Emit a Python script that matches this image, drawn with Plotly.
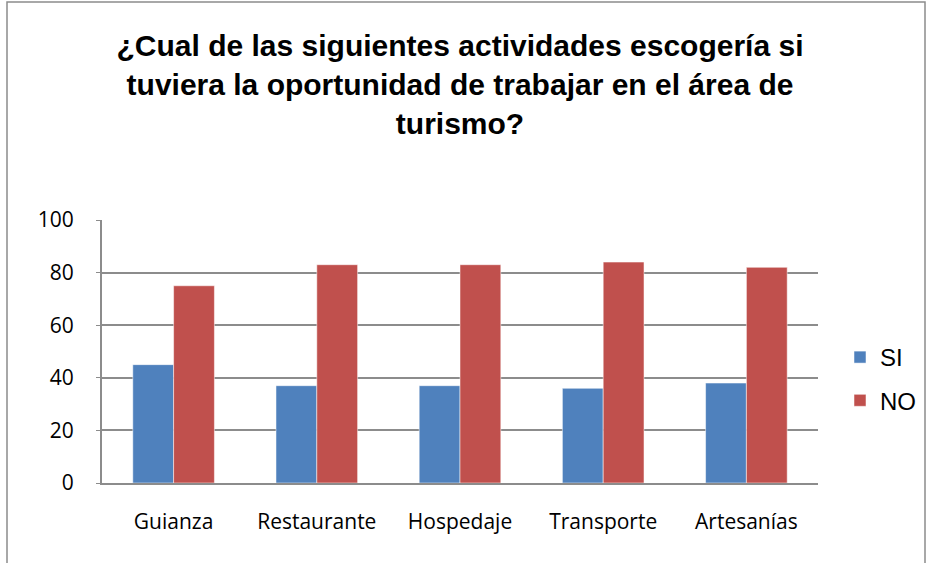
import plotly.graph_objects as go

categories = ["Guianza", "Restaurante", "Hospedaje", "Transporte", "Artesanías"]
si_values = [45, 37, 37, 36, 38]
no_values = [75, 83, 83, 84, 82]
y_ticks = [0, 20, 40, 60, 80, 100]

W, H = 934, 563
L, R, T, B = 102, 116, 220, 80
pw, ph = W - L - R, H - T - B

fig = go.Figure()
fig.add_trace(go.Bar(name="SI", x=categories, y=si_values, marker_color="#4F81BD",
                     marker_line=dict(color="rgba(255,255,255,0.5)", width=1), legendgroup="a"))
fig.add_trace(go.Bar(name="NO", x=categories, y=no_values, marker_color="#C0504D",
                     marker_line=dict(color="rgba(255,255,255,0.5)", width=1), legendgroup="b"))

def px_x(x):
    return (x - L) / pw

def px_y(y):
    return (H - B - y) / ph

fig.add_shape(type="rect", xref="paper", yref="paper",
              x0=px_x(7), x1=px_x(925), y0=px_y(575), y1=px_y(2),
              line=dict(color="#8c8c8c", width=1.5), fillcolor="rgba(0,0,0,0)", layer="below")

fig.update_layout(
    width=W, height=H,
    margin=dict(l=L, r=R, t=T, b=B, autoexpand=False),
    paper_bgcolor="white", plot_bgcolor="white",
    barmode="group", bargap=0.43, bargroupgap=0,
    title=dict(text="¿Cual de las siguientes actividades escogería si<br>tuviera la oportunidad de trabajar en el área de<br>turismo?",
               x=0.5, xref="paper", xanchor="center", y=1 - 56 / H, yanchor="top",
               font=dict(family="Liberation Sans", size=30, color="black", weight="bold")),
    legend=dict(x=px_x(840), y=px_y(335), xanchor="left", yanchor="top",
                font=dict(family="Liberation Sans", size=24, color="black"),
                tracegroupgap=9, bgcolor="rgba(0,0,0,0)"),
    showlegend=True,
)
fig.update_xaxes(showline=True, linecolor="#8c8c8c", linewidth=2, ticks="",
                 tickfont=dict(family="Open Sans", size=21, color="black"),
                 ticklabelstandoff=19, showgrid=False)
fig.update_yaxes(range=[0, 100], tickvals=y_ticks, showline=True, linecolor="#8c8c8c", linewidth=2,
                 ticks="outside", ticklen=4, tickcolor="#8c8c8c",
                 showgrid=True, gridcolor="#8c8c8c", gridwidth=1.5,
                 tickfont=dict(family="Open Sans", size=21, color="black"),
                 ticklabelstandoff=18, zeroline=False)

fig.write_html("out.html", config={"displayModeBar": False},
               post_script="document.body.style.margin='0';")
